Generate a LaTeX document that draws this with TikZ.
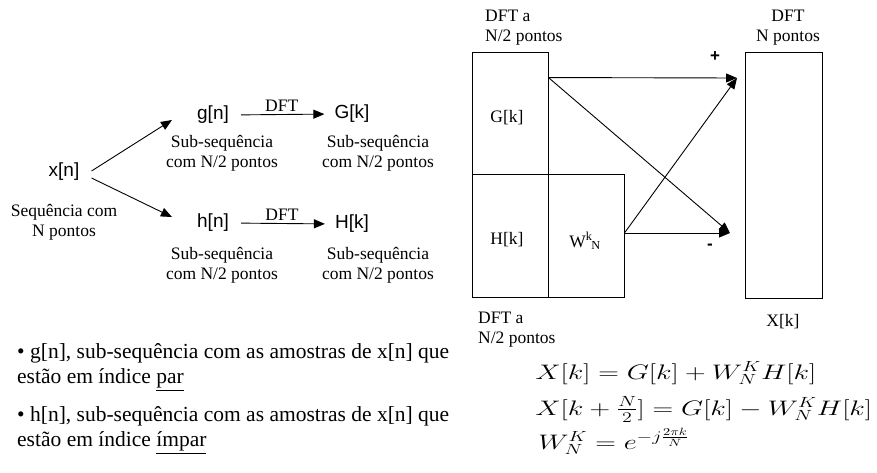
\documentclass[tikz,border=0pt]{standalone}
\usepackage{fix-cm}
\usepackage{amsmath}
\usepackage[no-math]{fontspec}
\setmainfont{Liberation Serif}
\newfontfamily\arialfont{Liberation Sans}
\usetikzlibrary{arrows.meta, positioning, calc}

\begin{document}
\begin{tikzpicture}[
    x=1pt, y=-1pt,
    lbl/.style={font=\fontsize{17.5}{20}\selectfont, align=center, inner sep=0pt},
    sig/.style={font=\arialfont\fontsize{19}{22}\selectfont, inner sep=0pt},
    blk/.style={rectangle, draw, line width=0.9pt, inner sep=0pt},
    arrow/.style={-{Triangle[length=11pt, width=9pt]}, line width=0.9pt},
    bullet/.style={font=\fontsize{21.5}{25}\selectfont, align=left, anchor=west, inner sep=0pt},
    eq/.style={font=\fontsize{21}{25}\selectfont, anchor=base west, inner sep=0pt, xscale=1.36}
]
\useasboundingbox[fill=white] (0,0) rectangle (877,473);

\node[sig] (xn) at (64,172) {x[n]};
\node[lbl, below=23pt of xn] (xnlbl) {Sequência com\\N pontos};
\node[sig] (gn) at (213,115) {g[n]};
\node[sig] (Gk) at (352,114) {G[k]};
\node[sig] (hn) at (213,223) {h[n]};
\node[sig] (Hk) at (352,224) {H[k]};
\node[lbl] (gnlbl) at (222,153) {Sub-sequência\\com N/2 pontos};
\node[lbl] (Gklbl) at (378,153) {Sub-sequência\\com N/2 pontos};
\node[lbl] (hnlbl) at (222,265) {Sub-sequência\\com N/2 pontos};
\node[lbl] (Hklbl) at (378,265) {Sub-sequência\\com N/2 pontos};
\draw[arrow] ($(xn.east)+(12,-1)$) -- ($(gn.west)+(-25,5)$);
\draw[arrow] ($(xn.east)+(12,6)$) -- ($(hn.west)+(-25,-6)$);
\draw[arrow, shorten <=12pt, shorten >=10pt] (gn.east) -- node[lbl, above=3pt] {DFT} (Gk.west);
\draw[arrow, shorten <=12pt, shorten >=10pt] (hn.east) -- node[lbl, above=3pt] {DFT} (Hk.west);

\node[blk, minimum width=76pt, minimum height=122pt] (gbox) at (510,113) {};
\node[blk, minimum width=76pt, minimum height=123pt] (hbox) at (510,235.5) {};
\node[blk, minimum width=76pt, minimum height=123pt] (wbox) at (586,235.5) {};
\node[blk, minimum width=77pt, minimum height=246pt] (xbox) at (783.5,175) {};
\node[lbl] (gk) at (507,118) {G[k]};
\node[lbl] (hk) at (507,240) {H[k]};
\node[lbl] (wk) at (585,241) {W\textsuperscript{k}\kern-1pt\textsubscript{N}};
\node[lbl, align=left, anchor=west] (gtop) at (485,27.5) {DFT a\\N/2 pontos};
\node[lbl, align=left, anchor=west] (hbot) at (478,330) {DFT a\\N/2 pontos};
\node[lbl] (xtop) at (788,27.5) {DFT\\N pontos};
\node[lbl] (xk) at (783,322) {X[k]};
\node[sig, font=\arialfont\bfseries\fontsize{17}{20}\selectfont] (plus) at (715,57) {+};
\node[sig, font=\arialfont\bfseries\fontsize{17}{20}\selectfont] (minus) at (710,247) {-};
\coordinate (gout) at ($(gbox.north east)+(0,26)$);
\coordinate (wout) at ($(wbox.east)+(0,-2.5)$);
\coordinate (ptop) at (737,78);
\coordinate (pbot) at (730,233);
\draw[arrow] (gout) -- (ptop);
\draw[arrow] (gout) -- (pbot);
\draw[arrow] (wout) -- (pbot);
\draw[arrow] (wout) -- (ptop);

\node[bullet] (bg) at (17,367.5) {• g[n], sub-sequência com as amostras de x[n] que\\estão em índice \underline{par}};
\node[bullet] (bh) at (17,430.5) {• h[n], sub-sequência com as amostras de x[n] que\\estão em índice \underline{ímpar}};

\node[eq] (eq1) at (535,379) {$X[k] = G[k] + W_N^K H[k]$};
\node[eq] (eq2) at (535,415) {$X[k+\frac{N}{2}] = G[k] - W_N^K H[k]$};
\node[eq] (eq3) at (538,449) {$W_N^K = e^{-j\frac{2\pi k}{N}}$};
\end{tikzpicture}
\end{document}
